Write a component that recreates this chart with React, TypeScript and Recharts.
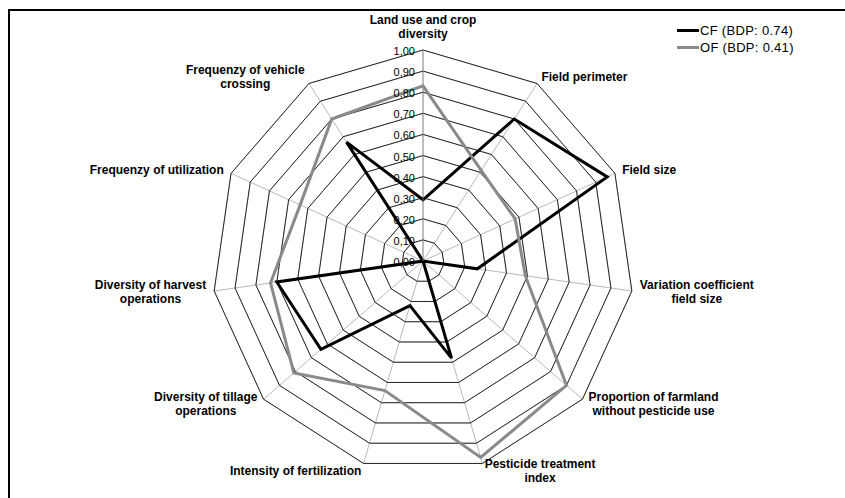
import React from "react";
import {
  PolarAngleAxis,
  PolarGrid,
  PolarRadiusAxis,
  Radar,
  RadarChart,
} from "recharts";

// Indikatoren (Zeilenumbruch wie im Original)
const indicators = [
  "Land use and crop\ndiversity",
  "Field perimeter",
  "Field size",
  "Variation coefficient\nfield size",
  "Proportion of farmland\nwithout pesticide use",
  "Pesticide treatment\nindex",
  "Intensity of fertilization",
  "Diversity of tillage\noperations",
  "Diversity of harvest\noperations",
  "Frequenzy of utilization",
  "Frequenzy of vehicle\ncrossing",
];

const cfValues = [0.29, 0.8, 0.96, 0.26, 0.0, 0.48, 0.22, 0.64, 0.7, 0.0, 0.67];
const ofValues = [0.83, 0.51, 0.48, 0.49, 0.9, 0.97, 0.64, 0.81, 0.73, 0.64, 0.8];

const radiusTicks = [0, 0.1, 0.2, 0.3, 0.4, 0.5, 0.6, 0.7, 0.8, 0.9, 1];

const seriesNames = ["CF (BDP: 0.74)", "OF (BDP: 0.41)"];
const seriesColors = ["#000000", "#8a8a8a"];

const FONT = '"Liberation Sans", Arial, sans-serif';

const data = indicators.map((label, i) => ({
  label,
  cf: cfValues[i],
  of: ofValues[i],
}));

let ctx: CanvasRenderingContext2D | null = null;
function textWidth(text: string, font: string): number {
  if (!ctx) ctx = document.createElement("canvas").getContext("2d");
  if (!ctx) return text.length * 6.5;
  ctx.font = font;
  return ctx.measureText(text).width;
}

// Achsenbeschriftung: mehrzeilig, Zeilen im Block zentriert
function AngleTick(props: any) {
  const { x, y, textAnchor, payload } = props;
  const lines = String(payload.value).split("\n");
  const lineH = 14;
  const blockH = (lines.length - 1) * lineH;
  const widths = lines.map((l) => textWidth(l, `bold 12px ${FONT}`));
  const blockW = Math.max(...widths);

  let midX = x;
  if (textAnchor === "start") midX = x + blockW / 2;
  if (textAnchor === "end") midX = x - blockW / 2;

  const sin = Math.sin((payload.coordinate * Math.PI) / 180);
  let firstY = y - blockH / 2;
  if (sin > 0.99) firstY = y - 8 - blockH;

  return (
    <text
      textAnchor="middle"
      fontFamily={FONT}
      fontSize={12}
      fontWeight="bold"
      fill="#000"
      dominantBaseline="central"
    >
      {lines.map((l, i) => (
        <tspan key={i} x={midX} y={firstY + i * lineH}>
          {l}
        </tspan>
      ))}
    </text>
  );
}

function RadiusTick(props: any) {
  const { x, y, payload } = props;
  return (
    <text
      x={x - 8}
      y={y + 1}
      textAnchor="end"
      dominantBaseline="central"
      fontFamily={FONT}
      fontSize={11}
      fill="#000"
    >
      {Number(payload.value).toFixed(2).replace(".", ",")}
    </text>
  );
}

export default function App() {
  return (
    <div
      style={{
        position: "absolute",
        left: 0,
        top: 0,
        width: 845,
        height: 498,
        background: "#fff",
        overflow: "hidden",
      }}
    >
      {/* Rahmen links/oben */}
      <div
        style={{
          position: "absolute",
          left: 8,
          top: 9,
          width: 900,
          height: 600,
          borderLeft: "2px solid #000",
          borderTop: "2px solid #000",
        }}
      />

      <RadarChart
        width={845}
        height={498}
        data={data}
        cx={423}
        cy={261}
        outerRadius={211}
        margin={{ top: 0, right: 0, bottom: 0, left: 0 }}
        style={{ position: "absolute", left: 0, top: 0 }}
      >
        <PolarGrid gridType="polygon" stroke="#a0a0a0" strokeWidth={0.75} />
        <PolarGrid
          gridType="polygon"
          radialLines={false}
          stroke="#000"
          strokeWidth={0.8}
        />
        <PolarAngleAxis
          dataKey="label"
          tick={<AngleTick />}
          tickLine={false}
          tickSize={8}
          axisLine={false}
        />
        <PolarRadiusAxis
          angle={90}
          domain={[0, 1]}
          ticks={radiusTicks}
          tickCount={11}
          tick={<RadiusTick />}
          tickLine={false}
          axisLine={{ stroke: "#8c8c8c", strokeWidth: 0.75 }}
        />
        <Radar
          dataKey="cf"
          name={seriesNames[0]}
          stroke={seriesColors[0]}
          strokeWidth={3}
          fill="none"
          fillOpacity={0}
          dot={false}
          isAnimationActive={false}
        />
        <Radar
          dataKey="of"
          name={seriesNames[1]}
          stroke={seriesColors[1]}
          strokeWidth={3}
          fill="none"
          fillOpacity={0}
          dot={false}
          isAnimationActive={false}
        />
      </RadarChart>

      {/* Legende */}
      <div
        style={{
          position: "absolute",
          left: 677,
          top: 22,
          fontFamily: FONT,
          fontSize: 13,
          letterSpacing: 0.3,
          color: "#000",
        }}
      >
        {seriesNames.map((name, i) => (
          <div
            key={name}
            style={{ display: "flex", alignItems: "center", height: 17 }}
          >
            <span
              style={{
                display: "inline-block",
                width: 22,
                height: 3,
                background: seriesColors[i],
                marginRight: 1,
              }}
            />
            <span style={{ whiteSpace: "nowrap" }}>{name}</span>
          </div>
        ))}
      </div>
    </div>
  );
}
